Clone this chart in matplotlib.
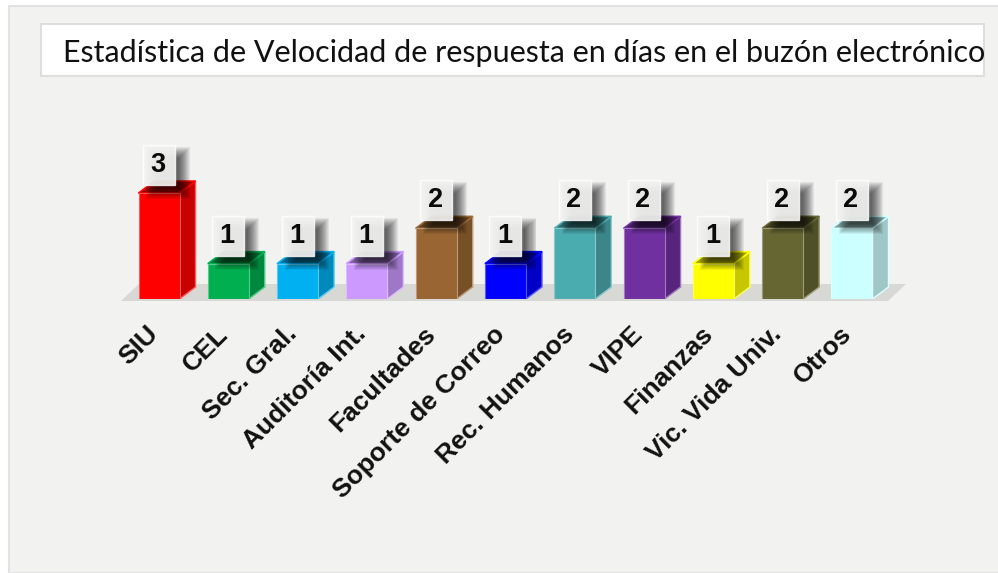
import numpy as np
import matplotlib
matplotlib.use("Agg")
import matplotlib.pyplot as plt
from matplotlib.patches import Polygon, Rectangle
from matplotlib.colors import to_rgb
from matplotlib.transforms import ScaledTranslation

# Data
categories = ["SIU", "CEL", "Sec. Gral.", "Auditoría Int.", "Facultades",
              "Soporte de Correo", "Rec. Humanos", "VIPE", "Finanzas",
              "Vic. Vida Univ.", "Otros"]
values = [3, 1, 1, 1, 2, 1, 2, 2, 1, 2, 2]
colors = ["#ff0000", "#00b050", "#00b0f0", "#cc99ff", "#996633", "#0000ff",
          "#4bacb0", "#7030a0", "#ffff00", "#666633", "#ccffff"]
title = "Estadística de Velocidad de respuesta en días en el buzón electrónico"

W, H = 998, 573
PANEL = "#f2f2f0"

# pixel geometry of the plot
step_px = 69.3
unit_px = 35.3
base_px = 299
first_px = 159
left_px, right_px, top_px = 100, 930, 100


def shade(color, k):
    return tuple(c * k for c in to_rgb(color))


fig = plt.figure(figsize=(W / 100, H / 100), dpi=100, facecolor="white")

# panel and title box, in figure pixels
fig.add_artist(Rectangle((9 / W, 0), 1, 1 - 6 / H, transform=fig.transFigure,
                         facecolor=PANEL, edgecolor="#e2e2e2", linewidth=1.5, zorder=-2))
fig.add_artist(Rectangle((41 / W, 1 - 76 / H), 943 / W, 52 / H, transform=fig.transFigure,
                         facecolor="white", edgecolor="#dedede", linewidth=1.5, zorder=-1))
fig.text(524 / W, 1 - 53 / H, title, ha="center", va="center", fontsize=22,
         family="Lato", color="#111111")

ax = fig.add_axes([left_px / W, 1 - base_px / H, (right_px - left_px) / W, (base_px - top_px) / H])
ax.patch.set_alpha(0)
xlim = ((left_px - first_px) / step_px, (right_px - first_px) / step_px)
ylim = (0, (base_px - top_px) / unit_px)

bar_w = 41 / step_px
dx = 16 / step_px
dy = 12 / unit_px

# floor
fx = np.array([121 - first_px, 139 - first_px, 906 - first_px, 888 - first_px]) / step_px
fy = np.array([-2, 15, 15, -2]) / unit_px
ax.add_patch(Polygon(np.c_[fx, fy], facecolor="#d8d8d4", edgecolor="none", clip_on=False, zorder=1))

x = np.arange(len(categories))
bars = ax.bar(x, values, width=bar_w, color=colors, zorder=3, linewidth=0)

for b, c in zip(bars, colors):
    x0, x1 = b.get_x(), b.get_x() + b.get_width()
    h = b.get_height()
    light = tuple(0.65 * v + 0.35 for v in to_rgb(c))
    ax.add_patch(Polygon([(x1, 0), (x1 + dx, dy), (x1 + dx, h + dy), (x1, h)],
                         facecolor=shade(c, 0.78), edgecolor=light, linewidth=1, zorder=2.5))
    ax.add_patch(Polygon([(x0, h), (x1, h), (x1 + dx, h + dy), (x0 + dx, h + dy)],
                         facecolor=shade(c, 0.62), edgecolor=c, linewidth=1.2, zorder=2.6))
    b.set_edgecolor(light)
    b.set_linewidth(0.8)

# value labels: translucent box with soft shadow behind
box_w = 32 / step_px
box_h = 40 / unit_px
gap = 8 / unit_px
for xi, v in zip(x, values):
    y0 = v + gap
    # stacked rectangles give the blurred shadow
    for k in range(12):
        inset = -6 + k * 1.0
        sx = xi - box_w / 2 + (9 + inset) / step_px
        sy = y0 + (-8 + inset) / unit_px
        ax.add_patch(Rectangle((sx, sy), box_w - 2 * inset / step_px, box_h - 2 * inset / unit_px,
                               facecolor=(0, 0, 0, 0.065), edgecolor="none", zorder=4, clip_on=False))
    ax.add_patch(Rectangle((xi - box_w / 2, y0), box_w, box_h, facecolor=(0.95, 0.95, 0.94, 0.92),
                           edgecolor=(1, 1, 1, 0.8), linewidth=1, zorder=5, clip_on=False))
    ax.text(xi - 0.015, y0 + box_h / 2, str(v), ha="center", va="center", fontsize=19.5,
            fontweight="bold", family="Liberation Sans", color="#0a0a0a", zorder=6)

ax.set_xlim(*xlim)
ax.set_ylim(*ylim)
ax.set_yticks([])
ax.set_xticks(x)
ax.set_xticklabels(categories, rotation=45, ha="right", va="top", rotation_mode="anchor",
                   fontsize=19, fontweight="bold", family="Liberation Sans", color="#111111")
ax.tick_params(axis="x", length=0, pad=20)
shift = ScaledTranslation(-13 / 100, 5 / 100, fig.dpi_scale_trans)
for lab in ax.get_xticklabels():
    lab.set_transform(lab.get_transform() + shift)
for s in ax.spines.values():
    s.set_visible(False)

fig.savefig("out.png", dpi=100, facecolor=fig.get_facecolor())
